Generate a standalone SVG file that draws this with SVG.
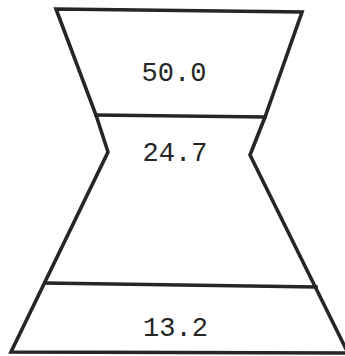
<svg xmlns="http://www.w3.org/2000/svg" width="345" height="356" viewBox="0 0 345 356">
<style>
.ln{fill:none;stroke:#262626;stroke-width:3.6;stroke-linejoin:miter;stroke-linecap:square}
.t{font-family:"Liberation Mono","Courier New",monospace;font-size:27px;fill:#262626;text-anchor:middle}
</style>
<rect width="345" height="356" fill="#fff"/>
<g id="outline">
<path class="ln" d="M56,9 L302,12 L265,117 L250,155 L348,353 L11,352 L108,152 L96,115 Z"/>
</g>
<g id="top">
<line class="ln" x1="96" y1="115" x2="265" y2="117"/>
<text class="t" x="174" y="81">50.0</text>
</g>
<g id="middle">
<line class="ln" x1="45" y1="283" x2="316" y2="287"/>
<text class="t" x="175" y="161">24.7</text>
</g>
<g id="bottom">
<text class="t" x="175.5" y="336">13.2</text>
</g>
</svg>
